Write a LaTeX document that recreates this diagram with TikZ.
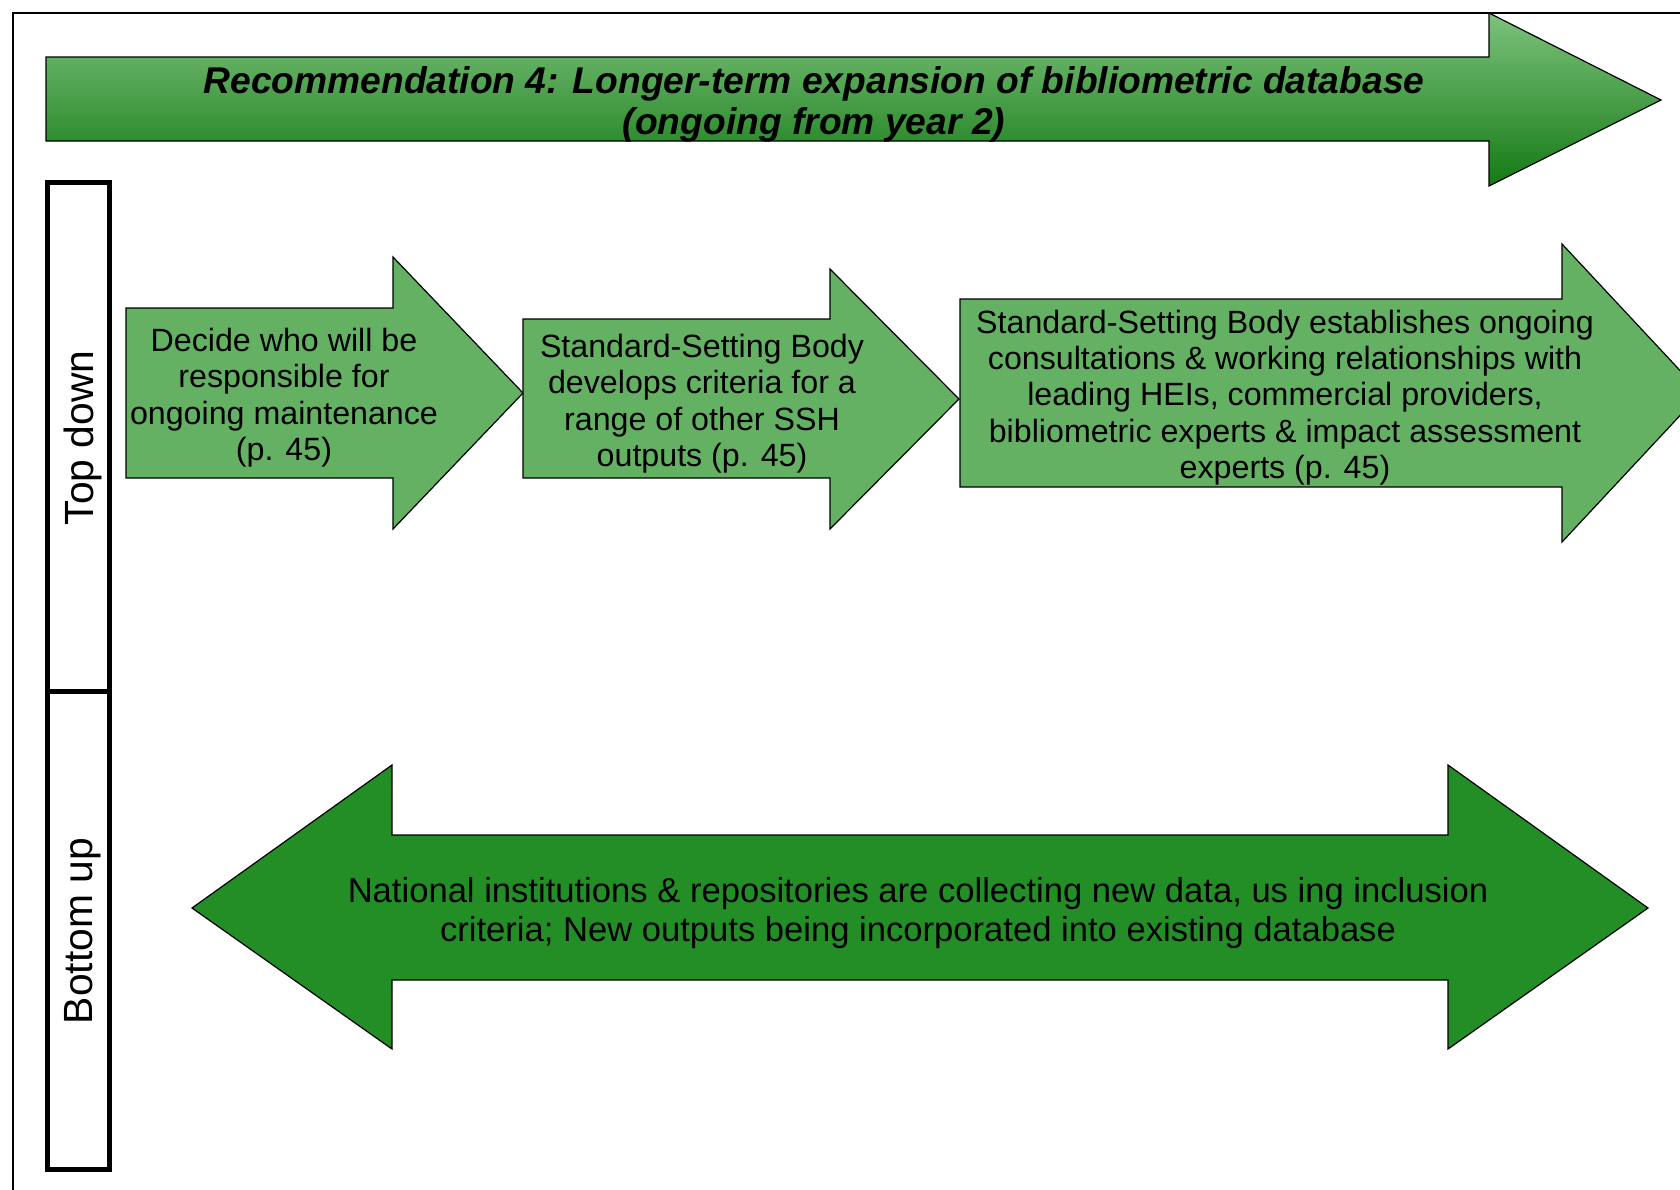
\documentclass[tikz,border=0pt]{standalone}
\usepackage{fontspec}
\setmainfont{Liberation Sans}
\definecolor{boxgreen}{RGB}{100,177,100}
\definecolor{darkgreen}{RGB}{35,142,37}
\definecolor{gradtop}{RGB}{125,194,125}
\definecolor{gradbot}{RGB}{20,122,20}
\begin{document}
\begin{tikzpicture}[x=0.5pt,y=-0.5pt,
  arr/.style={draw=black, line width=0.6pt, line join=miter},
  lightarr/.style={arr, fill=boxgreen},
  darkarr/.style={arr, fill=darkgreen},
  bodytext/.style={align=center, inner sep=0pt, font=\fontsize{16.1}{18.2}\selectfont},
  sidebox/.style={draw=black, line width=2.5pt},
  sidelabel/.style={rotate=90, inner sep=0pt, font=\fontsize{20.4}{24}\selectfont}]
\useasboundingbox (0,0) rectangle (1680,1189);
\clip (0,0) rectangle (1680,1189);
\fill[white] (0,0) rectangle (1680,1189);
% outer frame
\draw[line width=0.8pt] (13,1250) -- (13,13) -- (1750,13);
% top arrow
\shade[top color=gradtop, bottom color=gradbot, draw=black, line width=0.6pt]
  (46,57) -- (1489,57) -- (1489,13) -- (1661,100) -- (1489,186) -- (1489,141) -- (46,141) -- cycle;
\node[align=center, inner sep=0pt, font=\bfseries\itshape\fontsize{18.6}{20.5}\selectfont] (title) at (814,104.5)
  {Recommendation 4: Longer-term expansion of bibliometric database\\(ongoing from year 2)};
% side boxes
\draw[sidebox] (47,182) rectangle (109,691);
\draw[sidebox] (47,691) rectangle (109,1169);
\node[sidelabel] (topdown) at (83,438) {Top down};
\node[sidelabel] (bottomup) at (83,931) {Bottom up};
% top-down arrows
\draw[lightarr] (126,308) -- (393,308) -- (393,257) -- (523,393) -- (393,529) -- (393,478) -- (126,478) -- cycle;
\draw[lightarr] (523,319) -- (830,319) -- (830,269) -- (959,399) -- (830,529) -- (830,478) -- (523,478) -- cycle;
\draw[lightarr] (960,299) -- (1562,299) -- (1562,244) -- (1701,393) -- (1562,542) -- (1562,487) -- (960,487) -- cycle;
\node[bodytext] (step1) at (284,397.5)
  {Decide who will be\\responsible for\\ongoing maintenance\\(p. 45)};
\node[bodytext] (step2) at (702,403.5)
  {Standard-Setting Body\\develops criteria for a\\range of other SSH\\outputs (p. 45)};
\node[bodytext] (step3) at (1285,397.5)
  {Standard-Setting Body establishes ongoing\\consultations \& working relationships with\\leading HEIs, commercial providers,\\bibliometric experts \& impact assessment\\experts (p. 45)};
% bottom-up double arrow
\draw[darkarr] (192,908) -- (392,765) -- (392,835) -- (1448,835) -- (1448,765) -- (1648,908) -- (1448,1049) -- (1448,980) -- (392,980) -- (392,1049) -- cycle;
\node[align=center, inner sep=0pt, font=\fontsize{17.3}{19.8}\selectfont] (bottomtext) at (918,913)
  {National institutions \& repositories are collecting new data, us ing inclusion\\criteria; New outputs being incorporated into existing database};
\end{tikzpicture}
\end{document}
